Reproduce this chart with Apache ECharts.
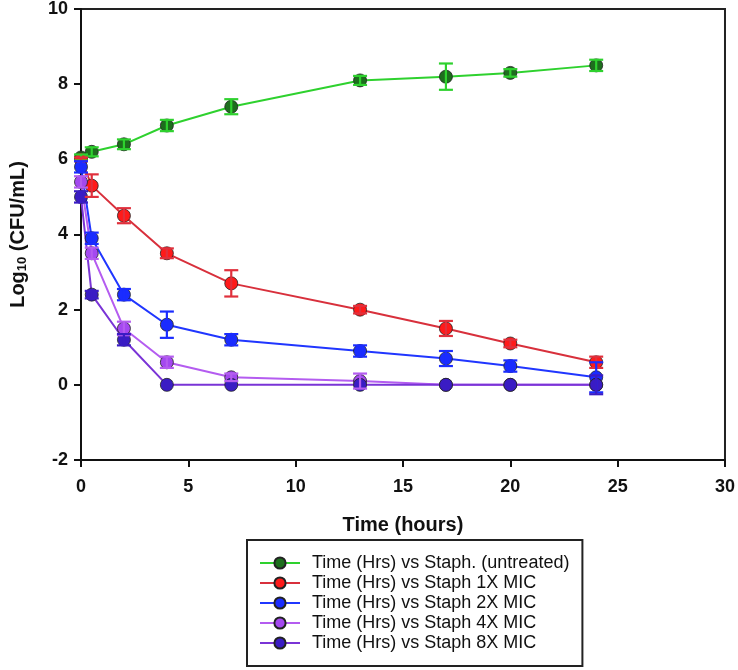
<!DOCTYPE html>
<html><head><meta charset="utf-8">
<script src="https://cdn.jsdelivr.net/npm/echarts@6/dist/echarts.min.js"></script>
<style>html,body{margin:0;padding:0;background:#fff}#c{width:738px;height:670px}</style>
</head><body><div id="c"></div>
<script>
const times = [0, 0.5, 2, 4, 7, 13, 17, 20, 24];
const seriesNames = [
  'Time (Hrs) vs Staph. (untreated)',
  'Time (Hrs) vs Staph 1X MIC',
  'Time (Hrs) vs Staph 2X MIC',
  'Time (Hrs) vs Staph 4X MIC',
  'Time (Hrs) vs Staph 8X MIC'
];
const untreated = [6.05, 6.2, 6.4, 6.9, 7.4, 8.1, 8.2, 8.3, 8.5];
const untreatedErr = [0.08, 0.12, 0.13, 0.15, 0.2, 0.12, 0.35, 0.1, 0.15];
const mic1 = [6.0, 5.3, 4.5, 3.5, 2.7, 2.0, 1.5, 1.1, 0.6];
const mic1Err = [0.05, 0.3, 0.2, 0.13, 0.35, 0.1, 0.2, 0.1, 0.15];
const mic2 = [5.8, 3.9, 2.4, 1.6, 1.2, 0.9, 0.7, 0.5, 0.2];
const mic2Err = [0.15, 0.15, 0.15, 0.35, 0.15, 0.15, 0.2, 0.15, 0.4];
const mic4 = [5.4, 3.5, 1.5, 0.6, 0.2, 0.1, 0.0, 0.0, 0.0];
const mic4Err = [0.15, 0.15, 0.18, 0.15, 0.1, 0.2, 0.0, 0.0, 0.0];
const mic8 = [5.0, 2.4, 1.2, 0.0, 0.0, 0.0, 0.0, 0.0, 0.0];
const mic8Err = [0.15, 0.1, 0.15, 0.0, 0.0, 0.0, 0.0, 0.0, 0.25];
const xTicks = [0, 5, 10, 15, 20, 25, 30];
const yTicks = [-2, 0, 2, 4, 6, 8, 10];

const values = [untreated, mic1, mic2, mic4, mic8];
const errs = [untreatedErr, mic1Err, mic2Err, mic4Err, mic8Err];
const lineColors = ['#2ed12e', '#d8303c', '#2036ff', '#b45cf0', '#7a34d6'];
const fillColors = ['#1d6e1d', '#ff1a1a', '#1a2cff', '#a448f0', '#3a1cc4'];
const errColors = ['#2ed12e', '#e0303c', '#1a2cff', '#b45cf0', '#3a1cc4'];
const FONT = 'Liberation Sans, Arial, sans-serif';

const chart = echarts.init(document.getElementById('c'));
const series = [];
values.forEach((v, i) => {
  series.push({
    name: seriesNames[i], type: 'line',
    data: times.map((t, k) => [t, v[k]]),
    symbol: 'circle', symbolSize: 13,
    lineStyle: { color: lineColors[i], width: 2 },
    itemStyle: { color: fillColors[i], borderColor: '#222', borderWidth: 0.8 },
    z: 3, animation: false
  });
});
values.forEach((v, i) => {
  series.push({
    type: 'custom', name: seriesNames[i] + ' err',
    data: times.map((t, k) => [t, v[k], errs[i][k]]),
    renderItem: function (params, api) {
      const x = api.value(0), y = api.value(1), e = api.value(2);
      if (!e) return null;
      const hi = api.coord([x, y + e]);
      const lo = api.coord([x, y - e]);
      const w = 7;
      const st = { stroke: errColors[i], lineWidth: 2.2 };
      return { type: 'group', children: [
        { type: 'line', shape: { x1: hi[0], y1: hi[1], x2: lo[0], y2: lo[1] }, style: st },
        { type: 'line', shape: { x1: hi[0] - w, y1: hi[1], x2: hi[0] + w, y2: hi[1] }, style: st },
        { type: 'line', shape: { x1: lo[0] - w, y1: lo[1], x2: lo[0] + w, y2: lo[1] }, style: st }
      ]};
    },
    z: 4, animation: false, silent: true
  });
});

chart.setOption({
  animation: false,
  textStyle: { fontFamily: FONT },
  grid: { left: 81, right: 13, top: 9, bottom: 210, show: true, borderColor: '#222', borderWidth: 2 },
  xAxis: {
    type: 'value', min: xTicks[0], max: xTicks[xTicks.length - 1], interval: 5,
    name: 'Time (hours)', nameLocation: 'middle', nameGap: 55,
    nameTextStyle: { fontSize: 20, fontWeight: 'bold', color: '#111' },
    axisLine: { onZero: false, lineStyle: { color: '#111', width: 2 } },
    axisTick: { length: 7, lineStyle: { width: 2, color: '#111' } },
    axisLabel: { fontSize: 18, fontWeight: 'bold', color: '#111', margin: 18 },
    splitLine: { show: false }
  },
  yAxis: {
    type: 'value', min: yTicks[0], max: yTicks[yTicks.length - 1], interval: 2,
    name: '{a|Log}{b|10}{a| (CFU/mL)}', nameLocation: 'middle', nameGap: 52, nameRotate: 90,
    nameTextStyle: { rich: {
      a: { fontSize: 20, fontWeight: 'bold', color: '#111', fontFamily: FONT },
      b: { fontSize: 13, fontWeight: 'bold', color: '#111', verticalAlign: 'bottom', padding: [9, 0, 0, 0], fontFamily: FONT }
    } },
    axisLine: { onZero: false, lineStyle: { color: '#111', width: 2 } },
    axisTick: { length: 7, lineStyle: { width: 2, color: '#111' } },
    axisLabel: { fontSize: 18, fontWeight: 'bold', color: '#111', margin: 13 },
    splitLine: { show: false }
  },
  legend: {
    data: seriesNames, orient: 'vertical', left: 247, top: 540,
    backgroundColor: '#fff', borderColor: '#222', borderWidth: 2,
    padding: [13, 13, 13, 12], itemGap: 0, itemWidth: 40, itemHeight: 14,
    textStyle: { fontSize: 18, color: '#111', lineHeight: 20, padding: [0, 0, 0, 7] }
  },
  series: series
});
</script></body></html>
